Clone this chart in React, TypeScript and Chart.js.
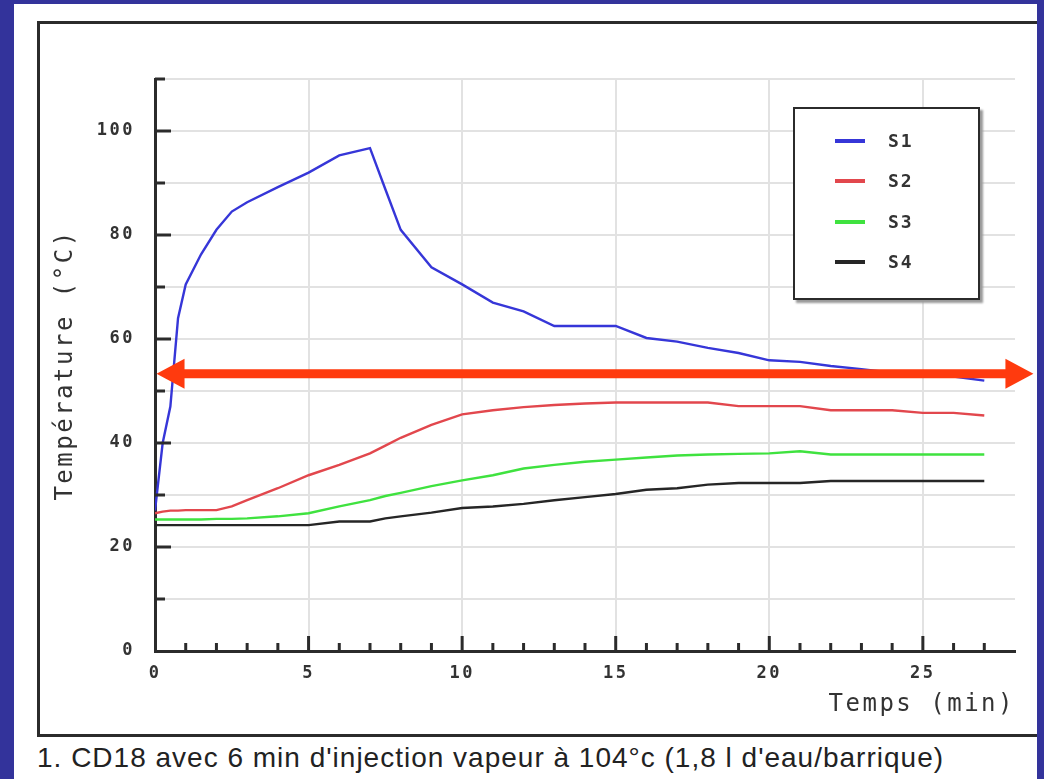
import React, { useEffect, useRef } from "react";
import { Chart, registerables } from "chart.js";

Chart.register(...registerables);

// ---- data ----
const times = [0, 0.25, 0.5, 0.75, 1, 1.5, 2, 2.5, 3, 4, 5, 6, 7, 7.5, 8, 9, 10, 11, 12, 13, 14, 15, 16, 17, 18, 19, 20, 21, 22, 23, 24, 25, 26, 27];
const s1 = [27, 40, 47, 64, 70.5, 76.3, 81, 84.5, 86.3, 89.2, 92, 95.3, 96.7, 88.8, 81, 73.8, 70.5, 67, 65.3, 62.5, 62.5, 62.5, 60.2, 59.5, 58.3, 57.3, 55.9, 55.6, 54.8, 54.2, 53.5, 53.3, 52.8, 52];
const s2 = [26.5, 26.8, 27, 27, 27.1, 27.1, 27.1, 27.8, 29, 31.3, 33.8, 35.8, 38, 39.5, 41, 43.5, 45.5, 46.3, 46.9, 47.3, 47.6, 47.8, 47.8, 47.8, 47.8, 47.1, 47.1, 47.1, 46.3, 46.3, 46.3, 45.8, 45.8, 45.3];
const s3 = [25.3, 25.3, 25.3, 25.3, 25.3, 25.3, 25.4, 25.4, 25.5, 25.9, 26.5, 27.8, 29, 29.8, 30.4, 31.7, 32.8, 33.8, 35.1, 35.8, 36.4, 36.8, 37.2, 37.6, 37.8, 37.9, 38, 38.4, 37.8, 37.8, 37.8, 37.8, 37.8, 37.8];
const s4 = [24.2, 24.2, 24.2, 24.2, 24.2, 24.2, 24.2, 24.2, 24.2, 24.2, 24.2, 24.9, 24.9, 25.5, 25.9, 26.6, 27.5, 27.8, 28.3, 29, 29.6, 30.2, 31, 31.3, 32, 32.3, 32.3, 32.3, 32.7, 32.7, 32.7, 32.7, 32.7, 32.7];

const seriesNames = ["S1", "S2", "S3", "S4"];
const seriesValues = [s1, s2, s3, s4];
const seriesColors = ["#3636d8", "#e2474d", "#3fe23f", "#262626"];

const X_MIN = 0;
const X_MAX = 28;
const X_STEP = 1;
const X_LABEL_EVERY = 5;
const Y_MIN = 0;
const Y_MAX = 110;
const Y_STEP = 10;
const Y_LABEL_EVERY = 20;

const ARROW_VALUE = 53.3;
const ARROW_FROM = 0.05;
const ARROW_TO = 28.6;

const xTitle = "Temps (min)";
const yTitle = "Température (°C)";
const caption = "1. CD18 avec 6 min d'injection vapeur à 104°c (1,8 l d'eau/barrique)";

// ---- styles ----
const BLUE = "#33339b";
const INK = "#2b2b2b";
const GRID = "#e2e2e2";
const ARROW_COLOR = "#ff3a0e";
const MONO = "'DejaVu Sans Mono', monospace";
const SPACING = "2.5px";

const CANVAS_W = 997;
const CANVAS_H = 710;

const spacingPlugin = {
  id: "spacing",
  beforeLayout(chart: any) {
    chart.ctx.letterSpacing = SPACING;
  },
  beforeDraw(chart: any) {
    chart.ctx.letterSpacing = SPACING;
  },
};

const tickMarksPlugin = {
  id: "tickMarks",
  afterDraw(chart: any) {
    const { ctx, chartArea, scales } = chart;
    const x = scales.x;
    const y = scales.y;
    ctx.save();
    ctx.strokeStyle = INK;
    ctx.lineWidth = 3;
    for (let v = Y_MIN + Y_STEP; v <= Y_MAX; v += Y_STEP) {
      const py = y.getPixelForValue(v);
      const len = v % Y_LABEL_EVERY === 0 ? 16 : 10;
      ctx.beginPath();
      ctx.moveTo(chartArea.left, py);
      ctx.lineTo(chartArea.left + len, py);
      ctx.stroke();
    }
    for (let v = X_MIN + X_STEP; v < X_MAX; v += X_STEP) {
      const px = x.getPixelForValue(v);
      const len = v % X_LABEL_EVERY === 0 ? 15 : 8;
      ctx.beginPath();
      ctx.moveTo(px, chartArea.bottom);
      ctx.lineTo(px, chartArea.bottom - len);
      ctx.stroke();
    }
    ctx.restore();
  },
};

const arrowPlugin = {
  id: "arrow",
  afterDraw(chart: any) {
    const { ctx, scales } = chart;
    const py = scales.y.getPixelForValue(ARROW_VALUE);
    const xl = scales.x.getPixelForValue(ARROW_FROM);
    const xr = scales.x.getPixelForValue(ARROW_TO);
    const head = 28;
    const halfH = 15;
    const shaft = 4.5;
    ctx.save();
    ctx.fillStyle = ARROW_COLOR;
    ctx.beginPath();
    ctx.moveTo(xl, py);
    ctx.lineTo(xl + head, py - halfH);
    ctx.lineTo(xl + head, py - shaft);
    ctx.lineTo(xr - head, py - shaft);
    ctx.lineTo(xr - head, py - halfH);
    ctx.lineTo(xr, py);
    ctx.lineTo(xr - head, py + halfH);
    ctx.lineTo(xr - head, py + shaft);
    ctx.lineTo(xl + head, py + shaft);
    ctx.lineTo(xl + head, py + halfH);
    ctx.closePath();
    ctx.fill();
    ctx.restore();
  },
};

function TempChart() {
  const ref = useRef<HTMLCanvasElement | null>(null);
  useEffect(() => {
    if (!ref.current) return;
    const tickFont = { family: MONO, size: 17, weight: "bold" as const };
    const titleFont = { family: MONO, size: 24, weight: "normal" as const };
    const chart = new Chart(ref.current, {
      type: "line",
      data: {
        datasets: seriesNames.map((name, i) => ({
          label: name,
          data: times.map((t, k) => ({ x: t, y: seriesValues[i][k] })),
          borderColor: seriesColors[i],
          backgroundColor: seriesColors[i],
          borderWidth: 2.4,
          pointRadius: 0,
          tension: 0,
          fill: false,
        })),
      },
      options: {
        responsive: false,
        animation: false,
        devicePixelRatio: 1,
        layout: { padding: { left: 0, top: 55, right: 22, bottom: 0 } },
        plugins: { legend: { display: false }, tooltip: { enabled: false } },
        scales: {
          x: {
            type: "linear",
            min: X_MIN,
            max: X_MAX,
            afterFit: (s: any) => {
              s.height = 83;
            },
            grid: {
              drawTicks: false,
              lineWidth: 2,
              color: (c: any) =>
                c.tick && c.tick.value !== 0 && c.tick.value % X_LABEL_EVERY === 0 ? GRID : "rgba(0,0,0,0)",
            },
            border: { display: true, color: INK, width: 3 },
            ticks: {
              stepSize: X_STEP,
              autoSkip: false,
              maxRotation: 0,
              padding: 12,
              color: "#333",
              font: tickFont,
              callback: (v: any) => (Number(v) % X_LABEL_EVERY === 0 ? String(v) : ""),
            },
            title: {
              display: true,
              text: xTitle,
              align: "end",
              color: "#333",
              font: titleFont,
              padding: { top: 0, bottom: 15 },
            },
          },
          y: {
            type: "linear",
            min: Y_MIN,
            max: Y_MAX,
            afterFit: (s: any) => {
              s.width = 115;
            },
            grid: {
              drawTicks: false,
              lineWidth: 2,
              color: (c: any) => (c.tick && c.tick.value !== 0 ? GRID : "rgba(0,0,0,0)"),
            },
            border: { display: true, color: INK, width: 3 },
            ticks: {
              stepSize: Y_STEP,
              autoSkip: false,
              padding: 20,
              color: "#333",
              font: tickFont,
              callback: (v: any) => (Number(v) % Y_LABEL_EVERY === 0 ? String(v) : ""),
            },
            title: {
              display: true,
              text: yTitle,
              color: "#333",
              font: titleFont,
              padding: { top: 11, bottom: 0 },
            },
          },
        },
      },
      plugins: [spacingPlugin, tickMarksPlugin, arrowPlugin],
    });
    return () => chart.destroy();
  }, []);
  return <canvas ref={ref} width={CANVAS_W} height={CANVAS_H} style={{ position: "absolute", left: 0, top: 0, width: CANVAS_W, height: CANVAS_H }} />;
}

export default function App() {
  return (
    <div style={{ position: "fixed", left: 0, top: 0, width: 1044, height: 779, background: BLUE, overflow: "hidden" }}>
      <div style={{ position: "absolute", left: 14, top: 4, width: 1023, height: 775, background: "#ffffff" }} />
      <div
        style={{
          position: "absolute",
          left: 37,
          top: 21,
          width: CANVAS_W,
          height: CANVAS_H,
          borderLeft: `3px solid ${INK}`,
          borderTop: `3px solid ${INK}`,
          borderBottom: `3px solid ${INK}`,
          background: "#fff",
        }}
      >
        <TempChart />
      </div>
      <div
        style={{
          position: "absolute",
          left: 793,
          top: 107,
          width: 183,
          height: 189,
          border: `2px solid ${INK}`,
          background: "#fff",
          boxShadow: "3px 3px 2px #9a9a9a",
        }}
      >
        {seriesNames.map((name, i) => (
          <div
            key={name}
            style={{ position: "absolute", left: 40, top: 32 + 40.3 * i - 11, height: 22, display: "flex", alignItems: "center" }}
          >
            <div style={{ width: 30, height: 4, background: seriesColors[i] }} />
            <div style={{ marginLeft: 23, fontFamily: MONO, fontWeight: "bold", fontSize: 18, letterSpacing: "2px", color: "#333", lineHeight: "22px" }}>
              {name}
            </div>
          </div>
        ))}
      </div>
      <div
        style={{
          position: "absolute",
          left: 37,
          top: 743,
          fontFamily: "'Liberation Sans', Arial, sans-serif",
          fontSize: 28,
          lineHeight: "30px",
          letterSpacing: "1px",
          color: "#222",
          whiteSpace: "nowrap",
        }}
      >
        {caption}
      </div>
    </div>
  );
}
